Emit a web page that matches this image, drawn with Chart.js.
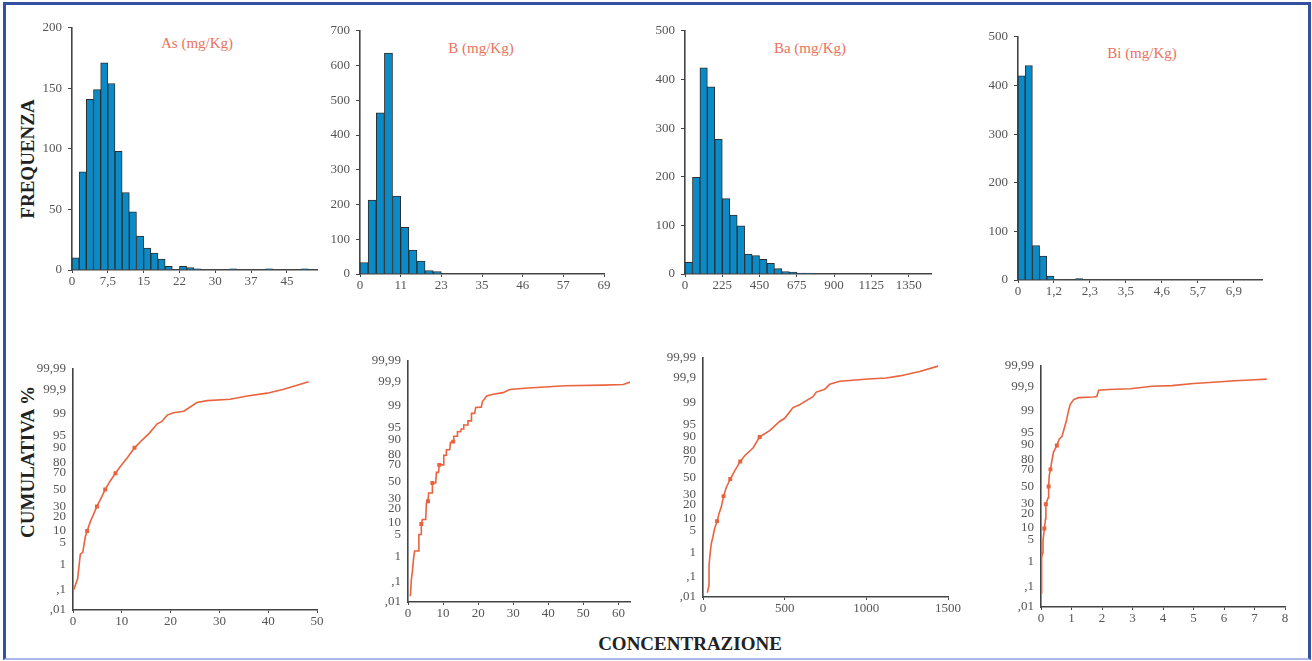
<!DOCTYPE html>
<html>
<head>
<meta charset="utf-8">
<script src="https://cdn.jsdelivr.net/npm/chart.js@4.4.1/dist/chart.umd.min.js"></script>
<style>
  html, body { margin:0; padding:0; background:#fff; }
  body { width:1312px; height:661px; position:relative; overflow:hidden; font-family:'Liberation Serif', serif; }
  #frame { position:absolute; left:3px; top:2px; width:1308px; height:658px; box-sizing:border-box;
           border-top:3px solid #3450a2; border-left:3px solid #3450a2; border-right:3px solid #3450a2; border-bottom:2px solid #a9b8e6; }
  canvas { position:absolute; }
  .t   { position:absolute; white-space:nowrap; transform:translate(-50%,-50%); }
  .ttl { color:#e9735c; font-size:15px; }
  .ax  { color:#222; font-weight:bold; font-size:19px; }
  .rot { transform:translate(-50%,-50%) rotate(-90deg); }
</style>
</head>
<body>
<div id="frame"></div>

<div class="t ax rot" style="left:28px;top:159px;">FREQUENZA</div>
<div class="t ax rot" style="left:28px;top:462px;">CUMULATIVA %</div>
<div class="t ax" style="left:690px;top:644px;">CONCENTRAZIONE</div>

<div class="t ttl" style="left:197px;top:43px;">As (mg/Kg)</div>
<div class="t ttl" style="left:481px;top:48px;">B (mg/Kg)</div>
<div class="t ttl" style="left:810px;top:48px;">Ba (mg/Kg)</div>
<div class="t ttl" style="left:1142px;top:53px;">Bi (mg/Kg)</div>

<script>
// ── istogrammi: conteggi per classe ──
const asBinW = 1.5;
const asCounts = [10,81,141,149,171,154,98,64,48,28,18,14,9,3,0,3,2,1,0,0,0,0,1,0,0,0,0,1,0,0,0,0,1];
const asTicks = [0,7.5,15,22.5,30,37.5,45];
const asTickLabels = ['0','7,5','15','22','30','37','45'];

const bBinW = 2.3;
const bCounts = [33,213,464,636,224,134,69,37,10,7];
const bTicks = [0,11.5,23,34.5,46,57.5,69];
const bTickLabels = ['0','11','23','35','46','57','69'];

const baBinW = 45;
const baCounts = [24,199,424,385,277,155,121,99,41,38,30,22,11,5,4,2,2];
const baTicks = [0,225,450,675,900,1125,1350];
const baTickLabels = ['0','225','450','675','900','1125','1350'];

const biBinW = 0.23;
const biCounts = [420,441,71,49,8,0,0,0,3];
const biTicks = [0,1.15,2.3,3.45,4.6,5.75,6.9];
const biTickLabels = ['0','1,2','2,3','3,5','4,6','5,7','6,9'];

// ── curve cumulative: concentrazione / % cumulata ──
const asCumX = [0.0,0.3,0.96,1.5,2.0,2.5,2.9,3.55,4.2,4.9,5.8,6.6,7.6,8.7,9.7,11.2,12.6,14.1,15.6,17.2,18.2,19.3,20.6,22.7,25.4,27.5,32.2,35.7,39.8,43.2,48.3];
const asCumP = [0.09,0.12,0.3,2.3,2.6,7,10,16,22,30,40,50,60,69,76,84,90,93.5,95.8,97.8,98.2,98.9,99.1,99.2,99.63,99.69,99.73,99.8,99.85,99.9,99.955];
const asMarkX = [2.9,4.9,6.6,8.7,12.6];
const asMarkP = [10,30,50,69,90];

const bCumX = [0.67,0.95,1.24,1.6,1.9,2.9,3.1,3.8,3.8,4.1,5.05,5.24,5.7,5.9,6.86,6.95,7.9,8.1,8.7,8.9,10.0,10.2,10.9,10.95,11.9,12.1,13.0,13.05,14.0,14.1,15.0,15.2,15.8,15.9,17.0,17.1,18.0,18.1,19.0,19.3,20.9,21.2,22.4,24.3,27.1,29,34.3,44.8,55.7,61.4,63.3];
const bCumP = [0.02,0.12,0.27,0.9,1.6,1.6,5.1,5.1,9.2,12,12,25,28,36,36,48,48,61,61,69.5,69.5,79,79,83.6,83.6,88.6,89,91.8,91.8,93.7,93.7,94.7,94.7,95.9,95.9,96.9,96.9,98.2,98.2,98.87,98.9,99.3,99.58,99.64,99.69,99.77,99.8,99.84,99.85,99.86,99.89];
const bMarkX = [3.8,5.7,6.95,8.9,12.9];
const bMarkP = [9.5,27,48,69.5,89];

const baCumX = [26.5,37,37,45,51,61,71,86,98,112,126,143,167,194,228,255,306,347,408,469,500,551,592,612,673,694,745,776,837,898,1010,1122,1204,1327,1439];
const baCumP = [0.017,0.04,0.33,1.05,2,3.3,5.6,8.4,13,18,28,38,48,58,69,75,82,89.6,92.7,95.9,96.7,98.5,98.8,99,99.4,99.6,99.69,99.81,99.86,99.87,99.89,99.9,99.92,99.95,99.973];
const baMarkX = [86,126,167,228,347];
const baMarkP = [8.7,28,48,69,89.6];

const biCumX = [0.01,0.02,0.05,0.065,0.11,0.15,0.16,0.23,0.25,0.27,0.31,0.36,0.41,0.52,0.6,0.69,0.74,0.83,0.91,0.96,1.07,1.23,1.72,1.83,1.89,2.22,2.93,3.64,4.29,5.0,5.65,6.36,7.02,7.4];
const biCumP = [0.05,1.4,2,4.6,9.7,16,29,36,50,63,70,79,85.5,89.6,92.8,93.9,95.7,97.8,99.1,99.43,99.63,99.69,99.71,99.72,99.85,99.86,99.87,99.9,99.906,99.924,99.934,99.944,99.95,99.953];
const biMarkX = [0.11,0.16,0.25,0.31,0.52];
const biMarkP = [9.7,29,50,70,89.6];

const probTicks  = [0.01,0.1,1,5,10,20,30,50,70,80,90,95,99,99.9,99.99];
const probLabels = [',01',',1','1','5','10','20','30','50','70','80','90','95','99','99,9','99,99'];

const asCumTicks = [0,10,20,30,40,50];
const bCumTicks  = [0,10,20,30,40,50,60];
const baCumTicks = [0,500,1000,1500];
const biCumTicks = [0,1,2,3,4,5,6,7,8];

// ── scala di probabilità normale ──
function probit(p) {
  const a=[-39.69683028665376,220.9460984245205,-275.9285104469687,138.3577518672690,-30.66479806614716,2.506628277459239];
  const b=[-54.47609879822406,161.5858368580409,-155.6989798598866,66.80131188771972,-13.28068155288572];
  const c=[-0.007784894002430293,-0.3223964580411365,-2.400758277161838,-2.549732539343734,4.374664141464968,2.938163982698783];
  const d=[0.007784695709041462,0.3224671290700398,2.445134137142996,3.754408661907416];
  const pl = 0.02425;
  if (p < pl) { const q=Math.sqrt(-2*Math.log(p)); return (((((c[0]*q+c[1])*q+c[2])*q+c[3])*q+c[4])*q+c[5])/((((d[0]*q+d[1])*q+d[2])*q+d[3])*q+1); }
  if (p > 1-pl) { const q=Math.sqrt(-2*Math.log(1-p)); return -(((((c[0]*q+c[1])*q+c[2])*q+c[3])*q+c[4])*q+c[5])/((((d[0]*q+d[1])*q+d[2])*q+d[3])*q+1); }
  const q=p-0.5, r=q*q;
  return (((((a[0]*r+a[1])*r+a[2])*r+a[3])*r+a[4])*r+a[5])*q/(((((b[0]*r+b[1])*r+b[2])*r+b[3])*r+b[4])*r+1);
}

class ProbitScale extends Chart.LinearScale {
  static id = 'probit';
  static defaults = Chart.LinearScale.defaults;
  buildTicks() { return probTicks.map(v => ({value:v})); }
  getPixelForValue(v) {
    if (v === null || isNaN(v)) return NaN;
    const z0 = probit(this.min/100), z1 = probit(this.max/100);
    return this.getPixelForDecimal((probit(v/100) - z0) / (z1 - z0));
  }
}
Chart.register(ProbitScale);

const AX = '#444', BAR = '#0a8ac6', LINE = '#e8633e';
Chart.defaults.font.family = "'Liberation Serif', serif";
Chart.defaults.font.size = 13;
Chart.defaults.color = '#555';

const YW = 46, XH = 24, PT = 12, PR = 16;

function mkCanvas(L, T, R, B) {
  const c = document.createElement('canvas');
  const w = Math.round(R - L + YW + PR), h = Math.round(B - T + PT + XH);
  c.width = w; c.height = h;
  c.style.left = Math.round(L - YW) + 'px'; c.style.top = Math.round(T - PT) + 'px';
  c.style.width = w + 'px'; c.style.height = h + 'px';
  document.body.appendChild(c);
  return c;
}

function xAxis(max, vals, labels) {
  return {
    type:'linear', min:0, max, offset:false,
    afterBuildTicks: s => { s.ticks = vals.map(v => ({value:v})); },
    afterFit: s => { s.height = XH; },
    ticks:{ autoSkip:false, maxRotation:0, padding:1, callback:(v,i)=>labels[i] },
    grid:{ display:true, drawOnChartArea:false, drawTicks:true, tickLength:3, color:AX, offset:false },
    border:{ color:AX, width:1.6 },
  };
}

function common() {
  return { responsive:false, devicePixelRatio:1, animation:false, events:[],
           layout:{ padding:{ top:PT, right:PR, left:0, bottom:0 } },
           plugins:{ legend:{display:false}, tooltip:{enabled:false} } };
}

function hist(box, counts, binW, xMax, yMax, yStep, ticks, labels) {
  new Chart(mkCanvas(...box), {
    type:'bar',
    data:{ datasets:[{ data:counts.map((c,i)=>({x:(i+0.5)*binW, y:c})),
      backgroundColor:BAR, borderColor:'#2e2e2e', borderWidth:1, barPercentage:1, categoryPercentage:1 }] },
    options:{ ...common(),
      scales:{
        x: xAxis(xMax, ticks, labels),
        y: { min:0, max:yMax, ticks:{ stepSize:yStep, padding:6, autoSkip:false },
             afterFit: s => { s.width = YW; },
             grid:{ drawOnChartArea:false, tickLength:4, color:AX },
             border:{ color:AX, width:1.6 } },
      } },
  });
}

function cum(box, xs, ps, mx, mp, xMax, ticks) {
  new Chart(mkCanvas(...box), {
    type:'scatter',
    data:{ datasets:[
      { data:xs.map((x,i)=>({x, y:ps[i]})), showLine:true, borderColor:LINE, borderWidth:1.6, pointRadius:0, tension:0 },
      { data:mx.map((x,i)=>({x, y:mp[i]})), showLine:false, pointStyle:'rect', pointRadius:2.8, backgroundColor:LINE, borderColor:LINE, borderWidth:0 },
    ] },
    options:{ ...common(),
      scales:{
        x: xAxis(xMax, ticks, ticks.map(String)),
        y: { type:'probit', min:0.01, max:99.99,
             ticks:{ autoSkip:false, padding:7, callback:(v,i)=>probLabels[i] },
             afterFit: s => { s.width = YW; },
             grid:{ display:false, drawTicks:false },
             border:{ color:AX, width:1.6 } },
      } },
  });
}

hist([72, 26, 316.7, 270],    asCounts, asBinW, 51.3, 200, 50,  asTicks, asTickLabels);
hist([360, 29.3, 604, 274],   bCounts,  bBinW,  69,   700, 100, bTicks,  bTickLabels);
hist([685, 29.3, 930.7, 274], baCounts, baBinW, 1485, 500, 100, baTicks, baTickLabels);
hist([1018.3, 35, 1262, 280], biCounts, biBinW, 7.8,  500, 100, biTicks, biTickLabels);

cum([72.7, 366, 316.7, 610],    asCumX, asCumP, asMarkX, asMarkP, 50,   asCumTicks);
cum([408.3, 358, 630, 602],     bCumX,  bCumP,  bMarkX,  bMarkP,  63.3, bCumTicks);
cum([703.3, 355, 948.3, 597],   baCumX, baCumP, baMarkX, baMarkP, 1500, baCumTicks);
cum([1040.7, 362.7, 1285, 606.7], biCumX, biCumP, biMarkX, biMarkP, 8,  biCumTicks);
</script>
</body>
</html>
